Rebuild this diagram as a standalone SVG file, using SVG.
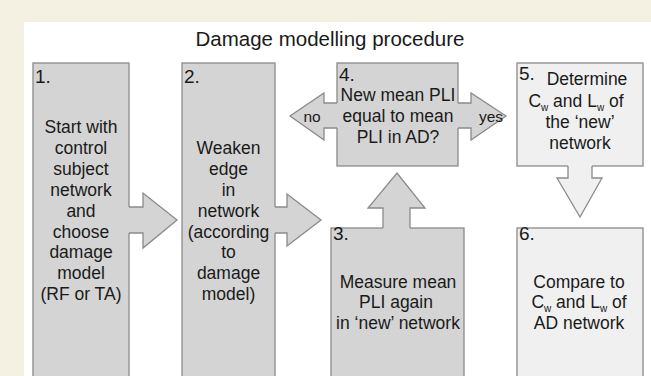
<svg xmlns="http://www.w3.org/2000/svg" width="651" height="376" viewBox="0 0 651 376">
<style>
.bg{fill:#f4f0e2}
.panel{fill:#ffffff}
.dark{fill:#d4d4d4;stroke:#8a8a8a;stroke-width:1.3}
.light{fill:#f0f0f0;stroke:#8a8a8a;stroke-width:1.3}
.fd{fill:#d4d4d4;stroke:none}
.fl{fill:#f0f0f0;stroke:none}
.ln{fill:none;stroke:#8a8a8a;stroke-width:1.3;stroke-linejoin:miter}
text{font-family:"Liberation Sans",Arial,sans-serif;fill:#1a1a1a}
.t{font-size:17.5px;text-anchor:middle}
.s{font-size:15.5px;text-anchor:middle}
.n{font-size:19px}
.title{font-size:20.5px;text-anchor:middle}
.sub{font-size:10px}
</style>
<rect class="bg" x="0" y="0" width="651" height="376"/>
<rect class="panel" x="24" y="22" width="627" height="354"/>
<text class="title" x="330" y="46">Damage modelling procedure</text>

<g id="node1">
<rect class="dark" x="33" y="63" width="96" height="314"/>
<text class="n" x="35" y="83">1.</text>
<text class="t" x="81" y="133">Start with</text>
<text class="t" x="81" y="154">control</text>
<text class="t" x="81" y="175">subject</text>
<text class="t" x="81" y="196">network</text>
<text class="t" x="81" y="217">and</text>
<text class="t" x="81" y="238">choose</text>
<text class="t" x="81" y="258">damage</text>
<text class="t" x="81" y="279">model</text>
<text class="t" x="81" y="300">(RF or TA)</text>
</g>

<g id="node2">
<rect class="dark" x="182" y="63" width="93" height="314"/>
<text class="n" x="184" y="83">2.</text>
<text class="t" x="228.5" y="154">Weaken</text>
<text class="t" x="228.5" y="175">edge</text>
<text class="t" x="228.5" y="196">in</text>
<text class="t" x="228.5" y="217">network</text>
<text class="t" x="228.5" y="238">(according</text>
<text class="t" x="228.5" y="258">to</text>
<text class="t" x="228.5" y="279">damage</text>
<text class="t" x="228.5" y="300">model)</text>
</g>

<g id="node3">
<rect class="dark" x="331" y="228" width="133" height="149"/>
<text class="n" x="333" y="240">3.</text>
<text class="t" x="398" y="288">Measure mean</text>
<text class="t" x="396" y="308">PLI again</text>
<text class="t" x="398" y="329">in ‘new’ network</text>
</g>

<g id="node4">
<rect class="dark" x="337" y="63" width="121" height="103"/>
<text class="n" x="339" y="81">4.</text>
<text class="t" x="398" y="101">New mean PLI</text>
<text class="t" x="398" y="122">equal to mean</text>
<text class="t" x="398" y="143">PLI in AD?</text>
</g>

<g id="node5">
<rect class="light" x="517" y="63" width="126" height="103"/>
<text class="n" x="519" y="80">5.</text>
<text class="t" x="587" y="85">Determine</text>
<text class="t" x="576" y="107">C<tspan class="sub" dy="4">w</tspan><tspan dy="-4"> and L</tspan><tspan class="sub" dy="4">w</tspan><tspan dy="-4"> of</tspan></text>
<text class="t" x="580" y="128">the ‘new’</text>
<text class="t" x="580" y="149">network</text>
</g>

<g id="node6">
<rect class="light" x="517" y="228" width="126" height="149"/>
<text class="n" x="519" y="240">6.</text>
<text class="t" x="579" y="288">Compare to</text>
<text class="t" x="579" y="308">C<tspan class="sub" dy="4">w</tspan><tspan dy="-4"> and L</tspan><tspan class="sub" dy="4">w</tspan><tspan dy="-4"> of</tspan></text>
<text class="t" x="579" y="329">AD network</text>
</g>

<g id="connectors">
<!-- 1 -> 2 -->
<polygon class="fd" points="128,207 143,207 143,193 177,220 143,248 143,233 128,233"/>
<polyline class="ln" points="129,207 143,207 143,193 177,220 143,248 143,233 129,233"/>
<!-- 2 -> 3 -->
<polygon class="fd" points="274,207 287,207 287,194 321,220 287,246 287,233 274,233"/>
<polyline class="ln" points="275,207 287,207 287,194 321,220 287,246 287,233 275,233"/>
<!-- 3 -> 4 -->
<polygon class="fd" points="383,229 383,208 368,208 397,173 425,208 410,208 410,229"/>
<polyline class="ln" points="383,228 383,208 368,208 397,173 425,208 410,208 410,228"/>
<!-- 4 no (left) -->
<polygon class="fd" points="338,103 324,103 324,93 290,116 324,140 324,128 338,128"/>
<polyline class="ln" points="337,103 324,103 324,93 290,116 324,140 324,128 337,128"/>
<text class="s" x="312" y="122">no</text>
<!-- 4 yes (right) -->
<polygon class="fd" points="457,103 471,103 471,93 506,116 471,140 471,128 457,128"/>
<polyline class="ln" points="458,103 471,103 471,93 506,116 471,140 471,128 458,128"/>
<text class="s" x="491" y="122">yes</text>
<!-- 5 -> 6 -->
<polygon class="fl" points="568,165 568,178 557,178 580,217 602,178 592,178 592,165"/>
<polyline class="ln" points="568,166 568,178 557,178 580,217 602,178 592,178 592,166"/>
</g>
</svg>
